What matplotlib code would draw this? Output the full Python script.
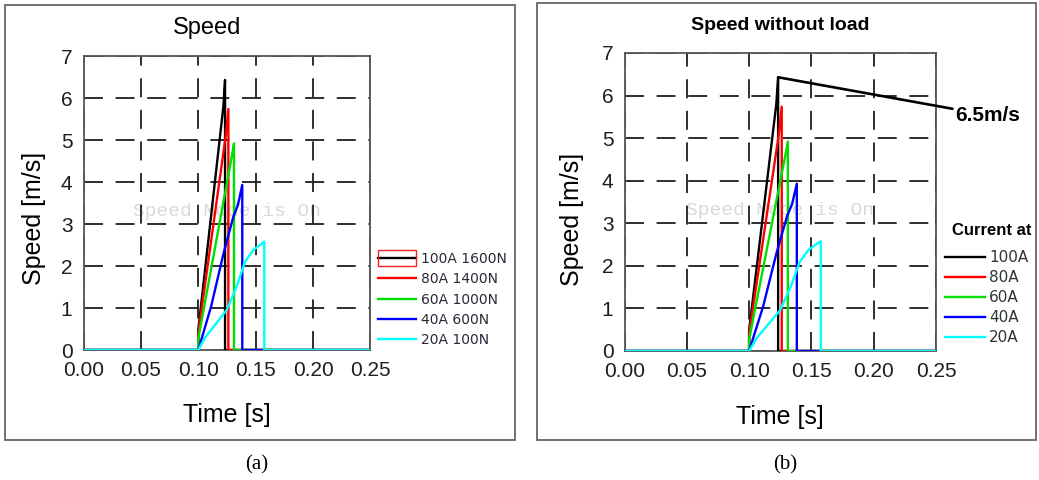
import matplotlib
matplotlib.use("Agg")
import matplotlib.pyplot as plt
from matplotlib.patches import Rectangle


W, H = 1039, 480

# speed traces (time in s, speed in m/s)
t_100a = [0.0, 0.100, 0.100, 0.1218, 0.1233, 0.1233, 0.25]
v_100a = [0.0, 0.0, 0.48, 5.79, 6.43, 0.0, 0.0]
t_80a = [0.0, 0.100, 0.100, 0.1238, 0.1262, 0.1262, 0.25]
v_80a = [0.0, 0.0, 0.40, 5.08, 5.74, 0.0, 0.0]
t_60a = [0.0, 0.100, 0.100, 0.1291, 0.1311, 0.1311, 0.25]
v_60a = [0.0, 0.0, 0.27, 4.60, 4.92, 0.0, 0.0]
t_40a = [0.0, 0.100, 0.1112, 0.1219, 0.1305, 0.1345, 0.1383, 0.1383, 0.25]
v_40a = [0.0, 0.0, 1.04, 2.29, 3.17, 3.45, 3.93, 0.0, 0.0]
t_20a = [0.0, 0.100, 0.106, 0.1131, 0.1247, 0.1334, 0.1407, 0.1479, 0.1575, 0.1575, 0.25]
v_20a = [0.0, 0.0, 0.30, 0.55, 0.95, 1.51, 2.10, 2.38, 2.58, 0.0, 0.0]

labels_a = ["100A 1600N", "80A 1400N", "60A 1000N", "40A 600N", "20A 100N"]
labels_b = ["100A", "80A", "60A", "40A", "20A"]
colors = ["#000000", "#ff0000", "#00e000", "#0000ff", "#00ffff"]

peak_label = "6.5m/s"
x_ticks = [0.00, 0.05, 0.10, 0.15, 0.20, 0.25]
y_ticks = [0, 1, 2, 3, 4, 5, 6, 7]

series = [(t_100a, v_100a), (t_80a, v_80a), (t_60a, v_60a), (t_40a, v_40a), (t_20a, v_20a)]


def px_rect(l, t, r, b):
    return [l / W, 1 - b / H, (r - l) / W, (b - t) / H]


def draw_panel(ax, labels, ylab_y):
    for (t, v), lbl, c in zip(series, labels, colors):
        ax.plot(t, v, color=c, lw=1.7, label=lbl, zorder=3)
    ax.set_xlim(0, 0.25)
    ax.set_ylim(0, 7)
    ax.set_xticks(x_ticks, [f"{x:.2f}" for x in x_ticks])
    ax.set_yticks(y_ticks)
    ax.tick_params(length=0, pad=8, labelsize=15, labelcolor="#1e1e1e")
    for lab in ax.get_xticklabels() + ax.get_yticklabels():
        lab.set_family("Liberation Sans")
    ax.grid(True, color="#1e1e1e", lw=1.3, linestyle=(0, (10.5, 7.0)))
    for s in ax.spines.values():
        s.set_color("#555555")
        s.set_linewidth(1.3)
    ax.set_xlabel("Time [s]", fontsize=18, family="Liberation Sans")
    ax.set_ylabel("Speed [m/s]", fontsize=18, family="Liberation Sans")
    ax.xaxis.set_label_coords(0.5, -0.18)
    ax.yaxis.set_label_coords(-0.13, ylab_y)
    ax.text(0.125, 3.3, "Speed Mode is On", family="Liberation Mono", fontsize=14,
            color="#d9d9d9", ha="center", va="center", zorder=0.5)


fig = plt.figure(figsize=(W / 100, H / 100), dpi=100)

# panel frames
fig.patches.append(Rectangle((5 / W, 1 - 440 / H), 510 / W, 435 / H, transform=fig.transFigure,
                             fill=False, edgecolor="#666666", lw=1.3))
fig.patches.append(Rectangle((537 / W, 1 - 440 / H), 499 / W, 437 / H, transform=fig.transFigure,
                             fill=False, edgecolor="#666666", lw=1.3))

ax1 = fig.add_axes(px_rect(83.5, 56, 370.5, 350))
draw_panel(ax1, labels_a, 0.446)
fig.text(207 / W, 1 - 28 / H, "Speed", fontsize=17, family="Liberation Sans", ha="center", va="center")
leg1 = ax1.legend(loc="upper left", bbox_to_anchor=(378 / W, 1 - 252 / H), bbox_transform=fig.transFigure,
                  frameon=False, borderpad=0, borderaxespad=0, handlelength=2.7, handletextpad=0.4,
                  labelspacing=0.45, prop={"family": "DejaVu Sans", "size": 10})
for txt in leg1.get_texts():
    txt.set_color("#2c2838")

ax2 = fig.add_axes(px_rect(624.5, 53, 936, 351))
draw_panel(ax2, labels_b, 0.443)
fig.text(780 / W, 1 - 26 / H, "Speed without load", fontsize=14, fontweight="bold",
         family="Liberation Sans", ha="center", va="center")
ax2.annotate(peak_label, xy=(t_100a[4], v_100a[4]), xytext=(0.2655, 5.54), textcoords="data",
             fontsize=15, fontweight="bold", family="Liberation Sans", ha="left", va="center",
             annotation_clip=False,
             arrowprops=dict(arrowstyle="-", color="black", lw=1.9, shrinkA=0, shrinkB=0))
fig.text(952 / W, 1 - 230 / H, "Current at", fontsize=12, fontweight="bold",
         family="Liberation Sans", ha="left", va="center")
leg2 = ax2.legend(loc="upper left", bbox_to_anchor=(945 / W, 1 - 250 / H), bbox_transform=fig.transFigure,
                  frameon=False, borderpad=0, borderaxespad=0, handlelength=2.6, handletextpad=0.3,
                  labelspacing=0.33, prop={"family": "DejaVu Sans", "size": 11})
for txt in leg2.get_texts():
    txt.set_color("#2c3438")

fig.text(257 / W, 1 - 465 / H, "(a)", fontsize=15, family="Liberation Serif", ha="center", va="center")
fig.text(785 / W, 1 - 465 / H, "(b)", fontsize=15, family="Liberation Serif", ha="center", va="center")

# red highlight box round the first legend handle of panel (a)
fig.canvas.draw()
bb = leg1.get_lines()[0].get_window_extent().transformed(fig.transFigure.inverted())
fig.patches.append(Rectangle((bb.x0, bb.y0 - 8 / H), bb.width, 16 / H, transform=fig.transFigure,
                             fill=False, edgecolor="#ff2020", lw=1.0))

fig.savefig("out.png", dpi=100)
